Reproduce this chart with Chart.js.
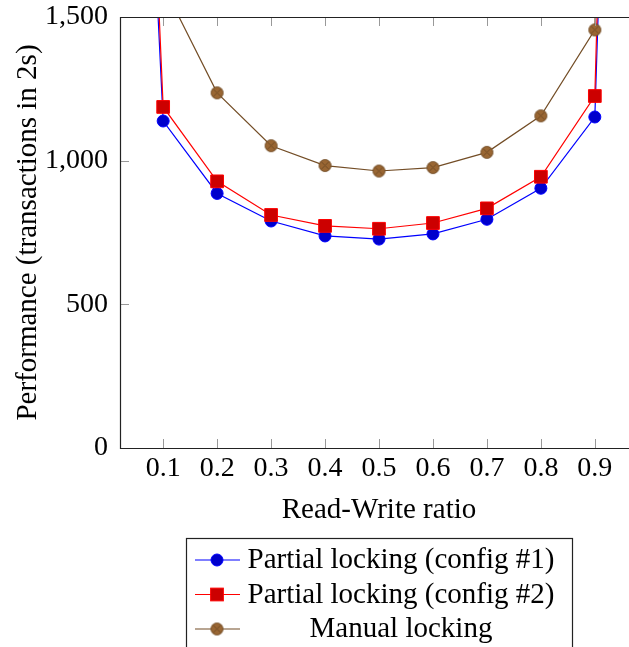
<!DOCTYPE html>
<html>
<head>
<meta charset="utf-8">
<script src="https://cdn.jsdelivr.net/npm/chart.js@4/dist/chart.umd.min.js"></script>
<style>
  html, body { margin: 0; padding: 0; background: #fff; overflow: hidden; }
  #wrap { width: 629px; height: 647px; overflow: hidden; position: relative; }
  canvas { display: block; }
</style>
</head>
<body>
<div id="wrap"><canvas id="c" width="645" height="647" style="width:645px;height:647px"></canvas></div>
<script>
// ---- data ----
const ratios = [0, 0.1, 0.2, 0.3, 0.4, 0.5, 0.6, 0.7, 0.8, 0.9, 1.0];
const partialConfig1 = [5000, 1138, 886, 790, 738, 727, 745, 796, 904, 1152, 7000];
const partialConfig2 = [5500, 1187, 928, 811, 773, 763, 783, 834, 944, 1225, 8000];
const manualLocking  = [3000, 1610, 1236, 1052, 983, 964, 976, 1029, 1156, 1455, 10000];
const seriesNames = ['Partial locking (config #1)', 'Partial locking (config #2)', 'Manual locking'];
const xTickValues = [0.1, 0.2, 0.3, 0.4, 0.5, 0.6, 0.7, 0.8, 0.9];
const yTickValues = [0, 500, 1000, 1500];
const xTitle = 'Read-Write ratio';
const yTitle = 'Performance (transactions in 2s)';

const FONT = '"Liberation Serif", "Times New Roman", serif';
const FS = 28;   // tick labels
const FT = 29;   // titles and legend

function otimesImage(r, fill, stroke) {
  const c = document.createElement('canvas');
  const s = Math.ceil(2 * r + 3);
  c.width = c.height = s;
  const g = c.getContext('2d');
  const m = s / 2;
  g.beginPath(); g.arc(m, m, r, 0, 2 * Math.PI);
  g.fillStyle = fill; g.fill();
  g.lineWidth = 1; g.strokeStyle = stroke; g.stroke();
  const d = r * Math.SQRT1_2;
  g.beginPath();
  g.moveTo(m - d, m - d); g.lineTo(m + d, m + d);
  g.moveTo(m + d, m - d); g.lineTo(m - d, m + d);
  g.stroke();
  return c;
}

const brownLine = '#734D26', brownFill = '#996633';
const otimes = otimesImage(6, brownFill, brownLine);

const toPts = arr => arr.map((v, i) => ({ x: ratios[i], y: v }));

const datasets = [
  { label: seriesNames[0], data: toPts(partialConfig1), borderColor: '#0000FF', backgroundColor: '#0000CC',
    pointStyle: 'circle', pointRadius: 6, pointBorderColor: '#0000FF', pointBackgroundColor: '#0000CC', order: 3 },
  { label: seriesNames[1], data: toPts(partialConfig2), borderColor: '#FF0000', backgroundColor: '#CC0000',
    pointStyle: 'rect', pointRadius: 9, pointBorderColor: '#FF0000', pointBackgroundColor: '#CC0000', order: 2 },
  { label: seriesNames[2], data: toPts(manualLocking), borderColor: brownLine, backgroundColor: brownFill,
    pointStyle: otimes, pointRadius: 6, pointBorderColor: brownLine, pointBackgroundColor: brownFill, order: 1 }
];
datasets.forEach(d => { d.borderWidth = 1.2; d.pointBorderWidth = 1; d.tension = 0; d.fill = false; });

const framePlugin = {
  id: 'frame',
  afterDraw(chart) {
    const { ctx, chartArea: a, scales } = chart;
    ctx.save();
    const TL = 9;
    ctx.strokeStyle = '#999';
    ctx.lineWidth = 1;
    ctx.beginPath();
    xTickValues.forEach(v => {
      const px = Math.round(scales.x.getPixelForValue(v)) + 0.5;
      ctx.moveTo(px, a.bottom); ctx.lineTo(px, a.bottom - TL);
      ctx.moveTo(px, a.top); ctx.lineTo(px, a.top + TL);
    });
    yTickValues.forEach(v => {
      const py = Math.round(scales.y.getPixelForValue(v)) + 0.5;
      ctx.moveTo(a.left, py); ctx.lineTo(a.left + TL, py);
      ctx.moveTo(a.right, py); ctx.lineTo(a.right - TL, py);
    });
    ctx.stroke();
    ctx.strokeStyle = '#222';
    ctx.lineWidth = 1.2;
    const L = Math.round(a.left) + 0.5, T = Math.round(a.top) + 0.5;
    const R = Math.round(a.right) + 0.5, B = Math.round(a.bottom) + 0.5;
    ctx.beginPath();
    ctx.moveTo(R, T); ctx.lineTo(L, T); ctx.lineTo(L, B); ctx.lineTo(R, B);
    ctx.stroke();

    // legend
    const bx = 186, by = 538, bw = 386, rowH = 34.5, row0 = 560;
    ctx.strokeStyle = '#222';
    ctx.lineWidth = 1.2;
    ctx.strokeRect(bx + 0.5, by + 0.5, bw, 130);
    chart.data.datasets.forEach((d, i) => {
      const y = row0 + i * rowH;
      ctx.strokeStyle = d.borderColor;
      ctx.lineWidth = d.borderWidth;
      ctx.beginPath(); ctx.moveTo(195, y); ctx.lineTo(240, y); ctx.stroke();
      const mx = 217;
      ctx.fillStyle = d.pointBackgroundColor;
      ctx.strokeStyle = d.pointBorderColor;
      ctx.lineWidth = 1;
      if (d.pointStyle === 'circle') {
        ctx.beginPath(); ctx.arc(mx, y, d.pointRadius, 0, 2 * Math.PI); ctx.fill(); ctx.stroke();
      } else if (d.pointStyle === 'rect') {
        const s = d.pointRadius * Math.SQRT1_2;
        ctx.fillRect(mx - s, y - s, 2 * s, 2 * s); ctx.strokeRect(mx - s, y - s, 2 * s, 2 * s);
      } else {
        ctx.drawImage(d.pointStyle, mx - d.pointStyle.width / 2, y - d.pointStyle.height / 2);
      }
      ctx.fillStyle = '#000';
      ctx.font = FT + 'px ' + FONT;
      ctx.textAlign = 'center';
      ctx.textBaseline = 'alphabetic';
      ctx.fillText(d.label, 401, y + 8);
    });
    ctx.restore();
  }
};

Chart.defaults.color = '#000';
Chart.defaults.font.family = FONT;
Chart.defaults.font.size = FS;

new Chart(document.getElementById('c'), {
  type: 'line',
  data: { datasets },
  options: {
    responsive: false,
    devicePixelRatio: 1,
    animation: false,
    events: [],
    layout: { autoPadding: false, padding: { top: 17, left: 0, right: 7, bottom: 119 } },
    plugins: { legend: { display: false }, tooltip: { enabled: false } },
    scales: {
      x: {
        type: 'linear', min: 0.02, max: 0.98,
        grid: { display: false, drawTicks: false },
        border: { display: false },
        afterBuildTicks: s => { s.ticks = xTickValues.map(v => ({ value: v })); },
        afterFit: s => { s.height = 80; s.paddingLeft = 0; s.paddingRight = 0; },
        ticks: { padding: 4, maxRotation: 0, font: { size: FS }, callback: v => v.toFixed(1) },
        title: { display: true, text: xTitle, font: { size: FT }, padding: { top: 0, bottom: 0 } }
      },
      y: {
        type: 'linear', min: 0, max: 1500,
        grid: { display: false, drawTicks: false },
        border: { display: false },
        afterBuildTicks: s => { s.ticks = yTickValues.map(v => ({ value: v })); },
        afterFit: s => { s.width = 120; s.paddingTop = 0; s.paddingBottom = 0; },
        ticks: { padding: 12, font: { size: FS }, callback: v => v.toLocaleString('en-US') },
        title: { display: true, text: yTitle, font: { size: FT }, padding: { top: 11, bottom: 0 } }
      }
    }
  },
  plugins: [framePlugin]
});
</script>
</body>
</html>
